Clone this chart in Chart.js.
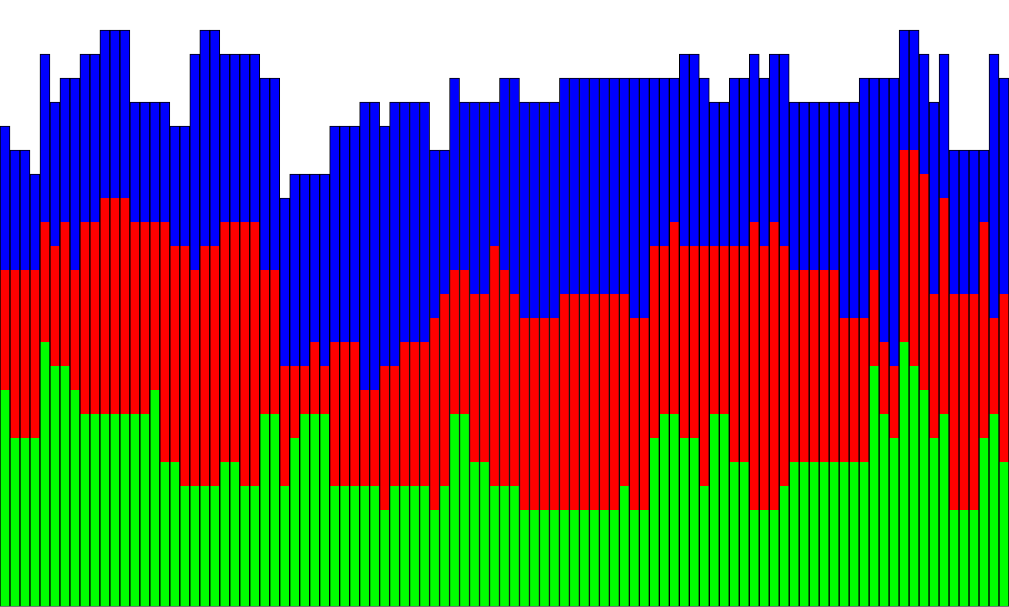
<!DOCTYPE html>
<html>
<head>
<meta charset="utf-8">
<script src="https://cdn.jsdelivr.net/npm/chart.js@4.4.1/dist/chart.umd.min.js"></script>
<style>
  html, body { margin: 0; padding: 0; background: #ffffff; }
  #wrap { width: 1009px; height: 607px; position: relative; }
</style>
</head>
<body>
<div id="wrap"><canvas id="c"></canvas></div>
<script>
// Categories: 101 bars
const categories = Array.from({ length: 101 }, (_, i) => String(i + 1));

// Bottom series (green)
const greenValues = [
  9,7,7,7,11,10,10,9,8,8,8,8,8,8,8,9,6,6,5,5,5,5,6,6,5,5,
  8,8,5,7,8,8,8,5,5,5,5,5,4,5,5,5,5,4,5,8,8,6,6,5,5,
  5,4,4,4,4,4,4,4,4,4,4,5,4,4,7,8,8,7,7,5,8,8,6,6,4,
  4,4,5,6,6,6,6,6,6,6,6,10,8,7,11,10,9,7,8,4,4,4,7,8,6
];

// Middle series (red)
const redValues = [
  5,7,7,7,5,5,6,5,8,8,9,9,9,8,8,7,10,9,10,9,10,10,10,10,11,11,
  6,6,5,3,2,3,2,6,6,6,4,4,6,5,6,6,6,8,8,6,6,7,7,10,9,
  8,8,8,8,8,9,9,9,9,9,9,8,8,8,8,7,8,8,8,10,7,7,9,9,12,
  11,12,10,8,8,8,8,8,6,6,6,4,3,3,8,9,9,6,9,9,9,9,9,4,7
];

// Top series (blue)
const blueValues = [
  6,5,5,4,7,6,6,8,7,7,7,7,7,5,5,5,5,5,5,9,9,9,7,7,7,7,
  8,8,7,8,8,7,8,9,9,9,12,12,10,11,10,10,10,7,6,8,7,8,8,6,8,
  9,9,9,9,9,9,9,9,9,9,9,9,10,10,7,7,6,8,8,7,6,6,7,7,7,
  7,7,8,7,7,7,7,7,9,9,10,8,11,12,5,5,5,8,6,6,6,6,3,11,9
];

const yMax = 25;

const sideBorder = { top: 0, left: 1, right: 1, bottom: 0 };
const topBorder = { top: 1, left: 1, right: 1, bottom: 0 };

new Chart(document.getElementById('c'), {
  type: 'bar',
  data: {
    labels: categories,
    datasets: [
      { label: 'Green', data: greenValues, backgroundColor: '#00ff00', borderColor: '#000000', borderWidth: sideBorder },
      { label: 'Red', data: redValues, backgroundColor: '#ff0000', borderColor: '#000000', borderWidth: sideBorder },
      { label: 'Blue', data: blueValues, backgroundColor: '#0000ff', borderColor: '#000000', borderWidth: topBorder }
    ]
  },
  options: {
    responsive: true,
    maintainAspectRatio: false,
    animation: false,
    layout: { padding: { top: 6, bottom: 1, left: 0, right: 0 } },
    datasets: { bar: { categoryPercentage: 1.0, barPercentage: 1.0 } },
    plugins: { legend: { display: false }, tooltip: { enabled: false } },
    scales: {
      x: {
        stacked: true,
        display: true,
        grid: { display: false, drawTicks: false },
        ticks: { display: false },
        border: { display: true, color: '#777777', width: 1 }
      },
      y: { stacked: true, display: false, min: 0, max: yMax }
    }
  }
});
</script>
</body>
</html>
